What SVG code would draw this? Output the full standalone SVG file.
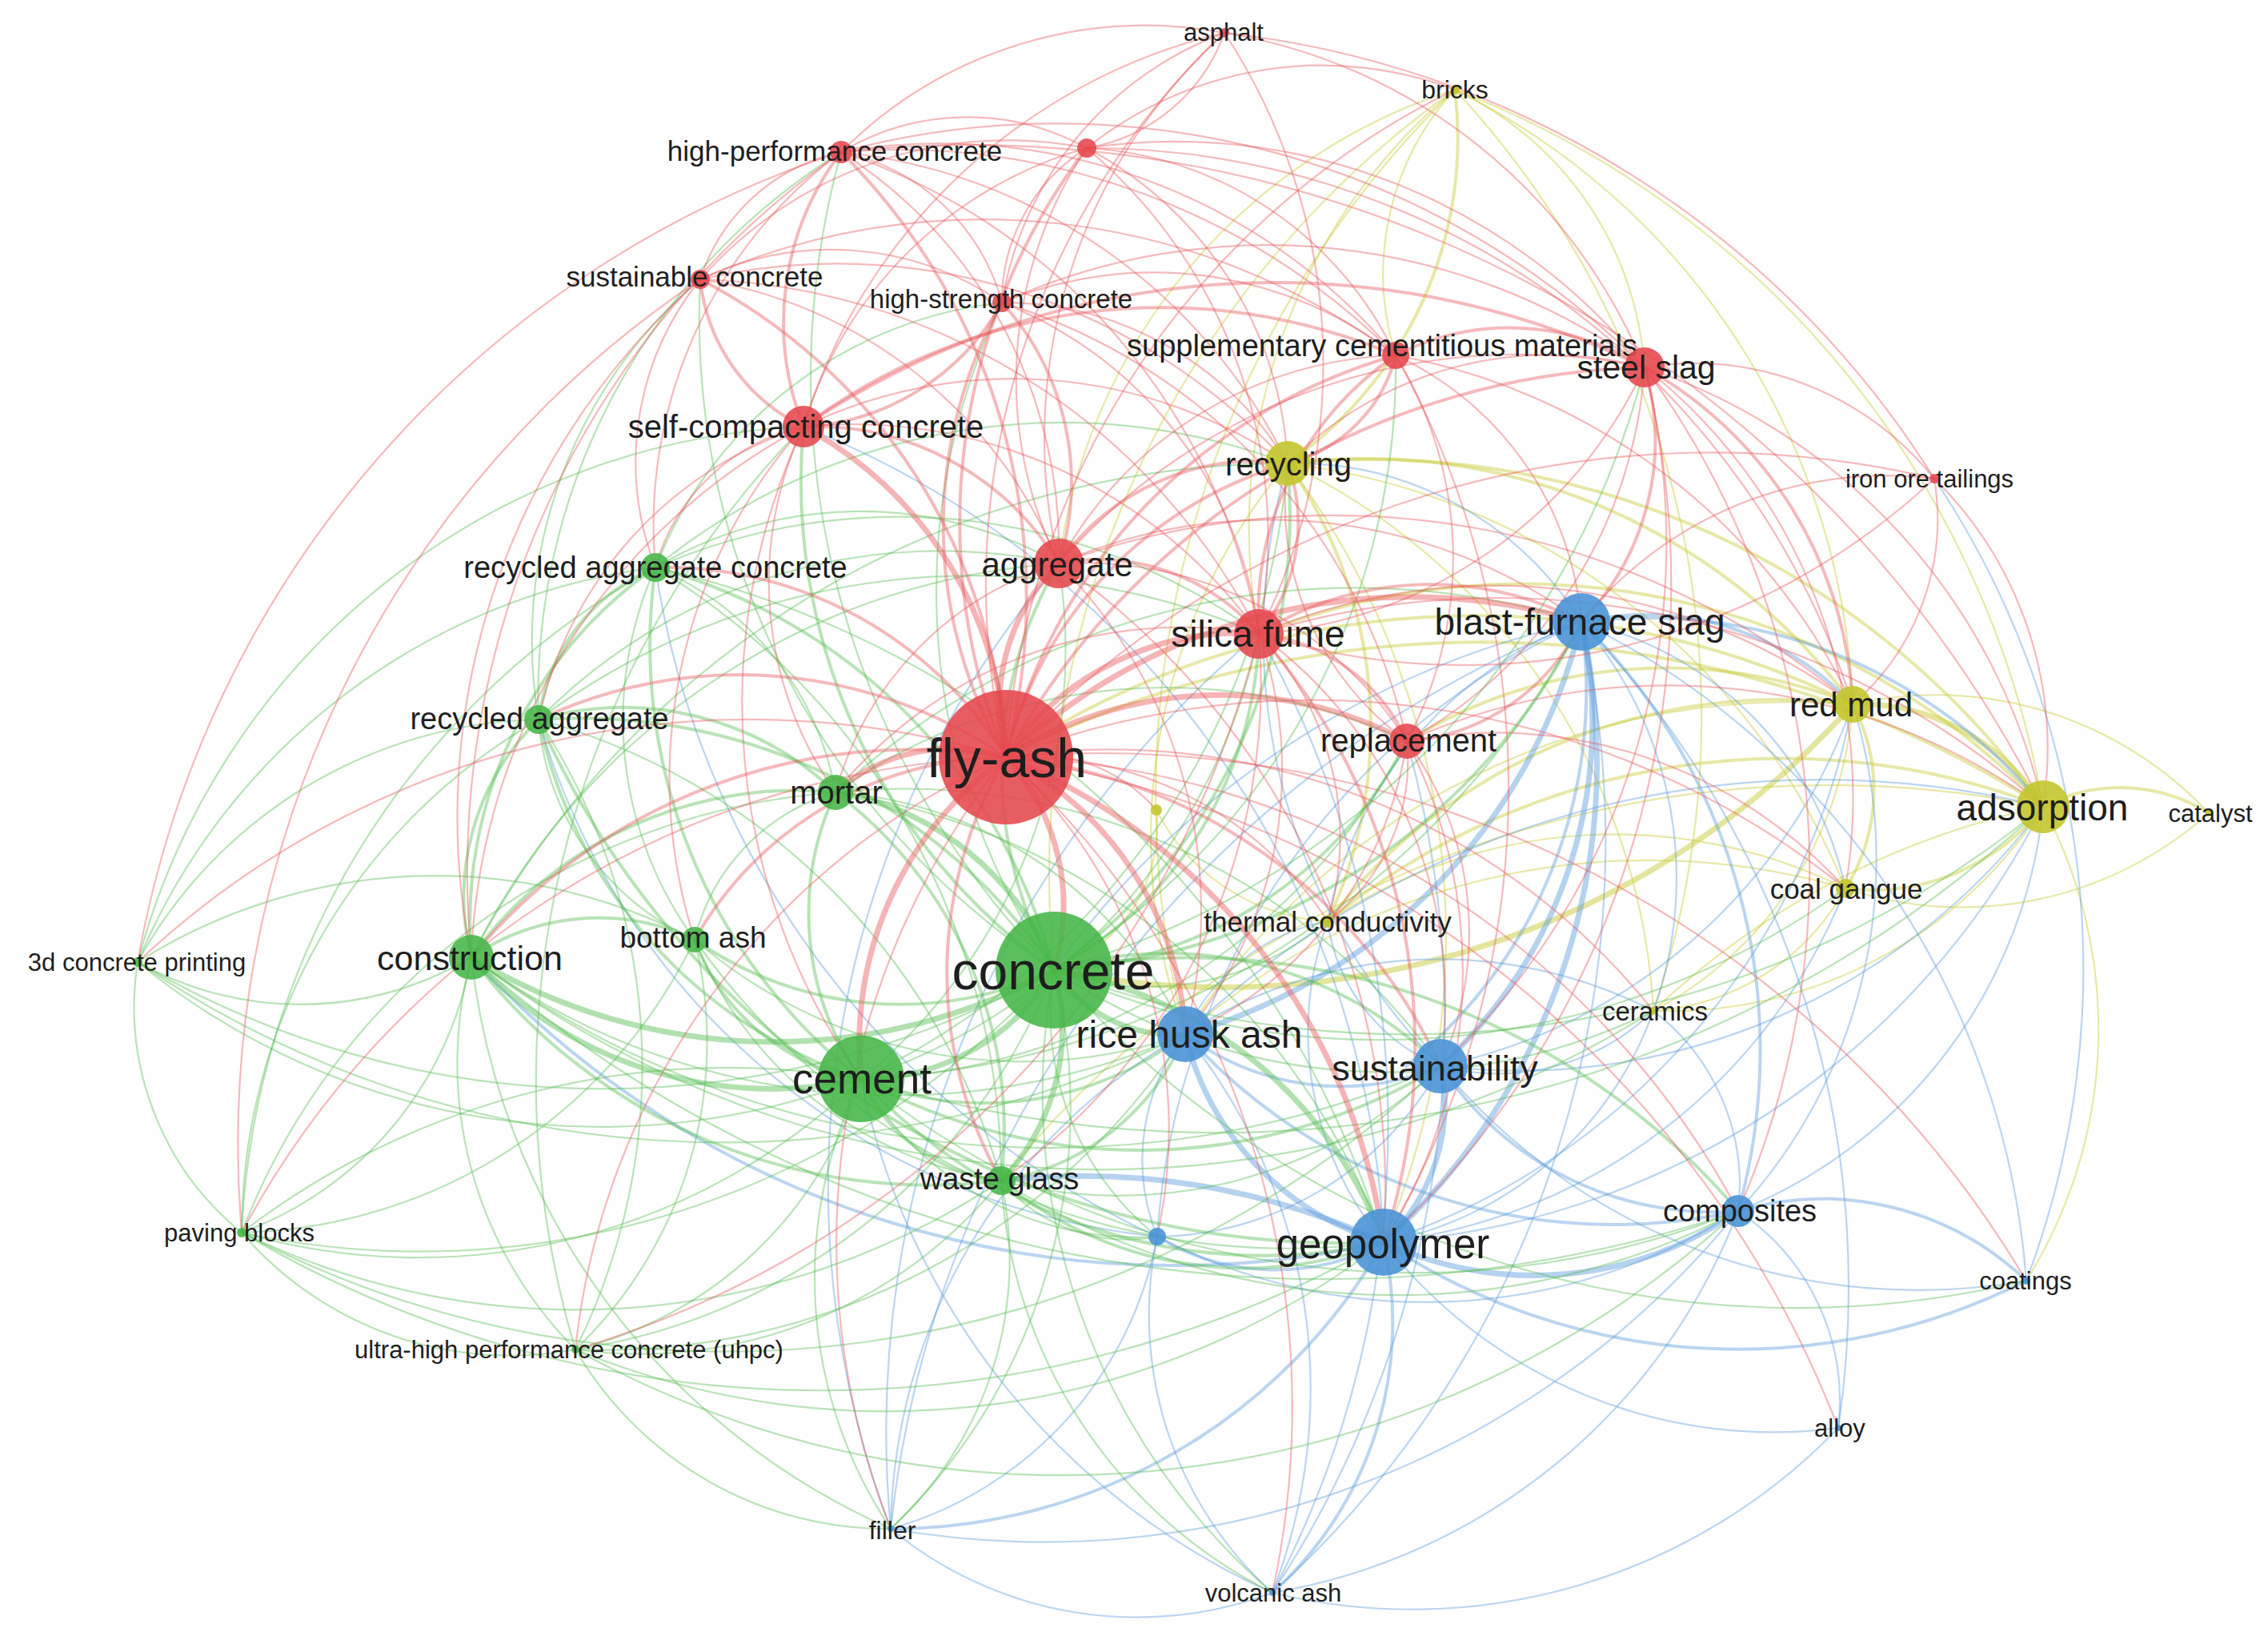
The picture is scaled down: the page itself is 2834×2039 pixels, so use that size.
<svg xmlns="http://www.w3.org/2000/svg" width="2834" height="2039" viewBox="0 0 2834 2039">
<style>
#connectors path{fill:none;stroke-linecap:round}
.r1{stroke:#e8595c;stroke-width:2.2;stroke-opacity:.42}
.r2{stroke:#e8595c;stroke-width:4;stroke-opacity:.42}
.r3{stroke:#e8595c;stroke-width:7;stroke-opacity:.45}
.g1{stroke:#55bd50;stroke-width:2.2;stroke-opacity:.42}
.g2{stroke:#55bd50;stroke-width:4;stroke-opacity:.42}
.g3{stroke:#55bd50;stroke-width:7;stroke-opacity:.45}
.b1{stroke:#5b9cdc;stroke-width:2.2;stroke-opacity:.42}
.b2{stroke:#5b9cdc;stroke-width:4;stroke-opacity:.42}
.b3{stroke:#5b9cdc;stroke-width:7;stroke-opacity:.45}
.y1{stroke:#c9cb3c;stroke-width:2.2;stroke-opacity:.45}
.y2{stroke:#c9cb3c;stroke-width:4;stroke-opacity:.45}
.y3{stroke:#c9cb3c;stroke-width:7;stroke-opacity:.5}
.nr{fill:#e5474c;fill-opacity:.88}
.ng{fill:#46b647;fill-opacity:.88}
.nb{fill:#4a94d6;fill-opacity:.9}
.ny{fill:#c3c62e;fill-opacity:.9}
text{font-family:"Liberation Sans",Arial,sans-serif;fill:#1e1e1e;text-anchor:middle;dominant-baseline:central}
</style>
<rect width="2834" height="2039" fill="#ffffff"/>
<g id="connectors">
<g class="y1">
<path d="M2315 880A467 467 0 0 1 2760 1016"/>
<path d="M2315 880A471 471 0 0 1 2066 1263"/>
<path d="M1609 579A864 864 0 0 1 2306 1110"/>
<path d="M1609 579A808 808 0 0 1 2066 1263"/>
<path d="M2315 880A894 894 0 0 0 1818 112"/>
<path d="M2553 1008A556 556 0 0 1 2066 1263"/>
<path d="M2553 1008A1172 1172 0 0 0 1818 112"/>
<path d="M2306 1110A298 298 0 0 1 2066 1263"/>
<path d="M2306 1110A648 648 0 0 0 1659 1151"/>
<path d="M1818 112A416 416 0 0 1 2055 459"/>
<path d="M1818 112A1151 1151 0 0 1 2066 1263"/>
<path d="M1818 112A340 340 0 0 0 1744 444"/>
<path d="M1818 112A720 720 0 0 0 1323 704"/>
<path d="M1818 112A712 712 0 0 0 1573 792"/>
<path d="M1818 112A1227 1227 0 0 0 1481 1292"/>
<path d="M1818 112A1200 1200 0 0 0 1317 1212"/>
<path d="M1609 579A980 980 0 0 1 1729 1552"/>
<path d="M1609 579A724 724 0 0 0 1481 1292"/>
<path d="M1445 1012A190 190 0 0 1 1317 1212"/>
<path d="M1445 1012A255 255 0 0 0 1659 1151"/>
<path d="M2760 1016A463 463 0 0 1 2306 1110"/>
<path d="M2532 1600A592 592 0 0 0 2553 1008"/>
<path d="M2553 1008A1000 1000 0 0 0 2066 1263"/>
<path d="M2315 880A900 900 0 0 0 1481 1292"/>
<path d="M2306 1110A880 880 0 0 0 1481 1292"/>
<path d="M2553 1008A1330 1330 0 0 0 1251 1475"/>
</g>
<g class="y2">
<path d="M1609 579A758 758 0 0 1 2315 880"/>
<path d="M1609 579A1034 1034 0 0 1 2553 1008"/>
<path d="M2315 880A230 230 0 0 1 2306 1110"/>
<path d="M2553 1008A273 273 0 0 1 2306 1110"/>
<path d="M2553 1008A207 207 0 0 1 2760 1016"/>
<path d="M1609 579A574 574 0 0 1 1659 1151"/>
<path d="M2315 880A714 714 0 0 0 1659 1151"/>
<path d="M2553 1008A900 900 0 0 0 1659 1151"/>
<path d="M1609 579A495 495 0 0 0 1818 112"/>
<path d="M2315 880A1060 1060 0 0 0 1257 946"/>
<path d="M2553 1008A1300 1300 0 0 0 1257 946"/>
<path d="M2315 880A620 620 0 0 0 1758 926"/>
<path d="M2553 1008A900 900 0 0 0 1573 792"/>
</g>
<g class="y3">
<path d="M2315 880A270 270 0 0 1 2553 1008"/>
<path d="M2315 880A1052 1052 0 0 1 1317 1212"/>
</g>
<g class="b1">
<path d="M1976 777A434 434 0 0 1 2306 1110"/>
<path d="M1976 777A499 499 0 0 0 1659 1151"/>
<path d="M1976 777A490 490 0 0 1 2066 1263"/>
<path d="M1976 777A911 911 0 0 0 1446 1545"/>
<path d="M1976 777A1265 1265 0 0 1 1590 1990"/>
<path d="M1976 777A1000 1000 0 0 1 2532 1600"/>
<path d="M1976 777A1375 1375 0 0 0 1113 1910"/>
<path d="M1976 777A420 420 0 0 0 1609 579"/>
<path d="M1481 1292A257 257 0 0 0 1446 1545"/>
<path d="M1481 1292A720 720 0 0 0 1113 1910"/>
<path d="M1481 1292A705 705 0 0 1 1590 1990"/>
<path d="M1481 1292A243 243 0 0 1 1659 1151"/>
<path d="M1481 1292A586 586 0 0 1 2066 1263"/>
<path d="M1481 1292A1152 1152 0 0 1 2553 1008"/>
<path d="M1800 1332A410 410 0 0 1 1446 1545"/>
<path d="M1800 1332A280 280 0 0 0 2066 1263"/>
<path d="M1800 1332A228 228 0 0 1 1659 1151"/>
<path d="M1800 1332A700 700 0 0 0 2315 880"/>
<path d="M1800 1332A818 818 0 0 0 2553 1008"/>
<path d="M1800 1332A776 776 0 0 0 2532 1600"/>
<path d="M1800 1332A767 767 0 0 1 1609 579"/>
<path d="M1729 1552A618 618 0 0 0 2297 1784"/>
<path d="M1729 1552A446 446 0 0 0 2066 1263"/>
<path d="M1729 1552A886 886 0 0 0 2315 880"/>
<path d="M1729 1552A1000 1000 0 0 0 2553 1008"/>
<path d="M1729 1552A706 706 0 0 0 2306 1110"/>
<path d="M1729 1552A410 410 0 0 1 1659 1151"/>
<path d="M2172 1513A285 285 0 0 1 2297 1784"/>
<path d="M2172 1513A757 757 0 0 1 1590 1990"/>
<path d="M2172 1513A274 274 0 0 0 2066 1263"/>
<path d="M2172 1513A610 610 0 0 0 2553 1008"/>
<path d="M2172 1513A646 646 0 0 0 2315 880"/>
<path d="M2172 1513A1116 1116 0 0 1 1113 1910"/>
<path d="M1446 1545A468 468 0 0 1 1113 1910"/>
<path d="M1446 1545A468 468 0 0 0 1590 1990"/>
<path d="M1113 1910A483 483 0 0 0 1590 1990"/>
<path d="M1590 1990A740 740 0 0 0 2297 1784"/>
<path d="M2172 1513A727 727 0 0 1 1446 1545"/>
<path d="M1446 1545A1100 1100 0 0 1 819 709"/>
<path d="M1446 1545A900 900 0 0 1 673 899"/>
<path d="M1113 1910A1300 1300 0 0 1 1573 792"/>
<path d="M1113 1910A1200 1200 0 0 1 1323 704"/>
<path d="M1590 1990A1250 1250 0 0 0 1573 792"/>
<path d="M1590 1990A1300 1300 0 0 0 1758 926"/>
<path d="M1590 1990A900 900 0 0 1 1076 1348"/>
<path d="M2532 1600A1100 1100 0 0 0 2417 598"/>
<path d="M2297 1784A1200 1200 0 0 0 1976 777"/>
<path d="M1976 777A1100 1100 0 0 0 1317 1212"/>
<path d="M1729 1552A1150 1150 0 0 0 1004 533"/>
</g>
<g class="b2">
<path d="M1976 777A751 751 0 0 1 2172 1513"/>
<path d="M1976 777A357 357 0 0 1 2315 880"/>
<path d="M1481 1292A322 322 0 0 0 1800 1332"/>
<path d="M1481 1292A722 722 0 0 0 2172 1513"/>
<path d="M1800 1332A409 409 0 0 0 2172 1513"/>
<path d="M1729 1552A708 708 0 0 1 1113 1910"/>
<path d="M1729 1552A454 454 0 0 1 1590 1990"/>
<path d="M1729 1552A283 283 0 0 1 1446 1545"/>
<path d="M1976 777A637 637 0 0 1 2553 1008"/>
<path d="M1729 1552A800 800 0 0 0 2532 1600"/>
<path d="M2172 1513A370 370 0 0 1 2532 1600"/>
<path d="M1729 1552A1194 1194 0 0 1 589 1196"/>
<path d="M1976 777A600 600 0 0 1 1757 1332"/>
</g>
<g class="b3">
<path d="M1976 777A580 580 0 0 1 1800 1332"/>
<path d="M1976 777A806 806 0 0 1 1729 1552"/>
<path d="M1481 1292A356 356 0 0 0 1729 1552"/>
<path d="M1800 1332A231 231 0 0 1 1729 1552"/>
<path d="M1729 1552A445 445 0 0 0 2172 1513"/>
<path d="M1976 777A705 705 0 0 1 1481 1292"/>
<path d="M1729 1552A900 900 0 0 0 1251 1475"/>
</g>
<g class="g1">
<path d="M1317 1212A1145 1145 0 0 1 172 1202"/>
<path d="M1317 1212A1067 1067 0 0 1 302 1540"/>
<path d="M1317 1212A763 763 0 0 1 719 1686"/>
<path d="M1317 1212A1054 1054 0 0 0 2055 459"/>
<path d="M1317 1212A879 879 0 0 0 1744 444"/>
<path d="M1317 1212A835 835 0 0 1 1252 378"/>
<path d="M1317 1212A1056 1056 0 0 1 1051 190"/>
<path d="M1317 1212A970 970 0 0 1 875 349"/>
<path d="M1317 1212A357 357 0 0 0 1446 1545"/>
<path d="M1317 1212A727 727 0 0 1 1113 1910"/>
<path d="M1317 1212A824 824 0 0 0 1590 1990"/>
<path d="M1317 1212A1253 1253 0 0 0 2553 1008"/>
<path d="M1317 1212A348 348 0 0 0 1659 1151"/>
<path d="M1317 1212A991 991 0 0 0 2306 1110"/>
<path d="M1317 1212A750 750 0 0 0 2066 1263"/>
<path d="M1317 1212A1230 1230 0 0 0 2532 1600"/>
<path d="M1076 1348A797 797 0 0 1 302 1540"/>
<path d="M1076 1348A491 491 0 0 1 719 1686"/>
<path d="M1076 1348A915 915 0 0 1 172 1202"/>
<path d="M1076 1348A1105 1105 0 0 0 2172 1513"/>
<path d="M1076 1348A690 690 0 0 0 1323 704"/>
<path d="M1076 1348A746 746 0 0 0 1573 792"/>
<path d="M1076 1348A1066 1066 0 0 0 1976 777"/>
<path d="M1076 1348A563 563 0 0 0 1113 1910"/>
<path d="M1076 1348A400 400 0 0 0 1446 1545"/>
<path d="M1076 1348A936 936 0 0 0 1609 579"/>
<path d="M1076 1348A802 802 0 0 0 1758 926"/>
<path d="M1076 1348A1510 1510 0 0 0 2553 1008"/>
<path d="M589 1196A417 417 0 0 1 172 1202"/>
<path d="M589 1196A448 448 0 0 1 302 1540"/>
<path d="M589 1196A507 507 0 0 0 719 1686"/>
<path d="M589 1196A897 897 0 0 0 1481 1292"/>
<path d="M589 1196A1217 1217 0 0 0 1800 1332"/>
<path d="M589 1196A884 884 0 0 1 1323 704"/>
<path d="M589 1196A1614 1614 0 0 0 2172 1513"/>
<path d="M589 1196A886 886 0 0 0 1113 1910"/>
<path d="M1044 990A253 253 0 0 0 868 1174"/>
<path d="M1044 990A375 375 0 0 0 819 709"/>
<path d="M1044 990A520 520 0 0 1 1481 1292"/>
<path d="M1044 990A865 865 0 0 1 1729 1552"/>
<path d="M1044 990A822 822 0 0 1 1800 1332"/>
<path d="M1044 990A955 955 0 0 1 1976 777"/>
<path d="M1044 990A861 861 0 0 0 302 1540"/>
<path d="M1044 990A714 714 0 0 1 1758 926"/>
<path d="M868 1174A332 332 0 0 1 673 899"/>
<path d="M868 1174A466 466 0 0 1 819 709"/>
<path d="M868 1174A490 490 0 0 0 1251 1475"/>
<path d="M868 1174A645 645 0 0 1 302 1540"/>
<path d="M868 1174A908 908 0 0 0 1729 1552"/>
<path d="M868 1174A625 625 0 0 0 1481 1292"/>
<path d="M868 1174A531 531 0 0 1 719 1686"/>
<path d="M868 1174A696 696 0 0 0 172 1202"/>
<path d="M819 709A813 813 0 0 0 172 1202"/>
<path d="M819 709A1000 1000 0 0 0 302 1540"/>
<path d="M819 709A763 763 0 0 1 1573 792"/>
<path d="M819 709A1240 1240 0 0 1 1729 1552"/>
<path d="M819 709A895 895 0 0 1 1251 1475"/>
<path d="M819 709A804 804 0 0 1 1609 579"/>
<path d="M819 709A504 504 0 0 1 1323 704"/>
<path d="M819 709A526 526 0 0 1 1252 378"/>
<path d="M673 899A585 585 0 0 0 172 1202"/>
<path d="M673 899A741 741 0 0 0 302 1540"/>
<path d="M673 899A704 704 0 0 1 1323 704"/>
<path d="M673 899A790 790 0 0 1 719 1686"/>
<path d="M673 899A590 590 0 0 1 875 349"/>
<path d="M673 899A800 800 0 0 1 1051 190"/>
<path d="M673 899A826 826 0 0 1 1251 1475"/>
<path d="M673 899A910 910 0 0 1 1573 792"/>
<path d="M1251 1475A955 955 0 0 1 302 1540"/>
<path d="M1251 1475A579 579 0 0 1 719 1686"/>
<path d="M1251 1475A580 580 0 0 0 1800 1332"/>
<path d="M1251 1475A204 204 0 0 0 1446 1545"/>
<path d="M1251 1475A456 456 0 0 1 1113 1910"/>
<path d="M1251 1475A922 922 0 0 0 2172 1513"/>
<path d="M1251 1475A616 616 0 0 0 1590 1990"/>
<path d="M172 1202A363 363 0 0 0 302 1540"/>
<path d="M302 1540A442 442 0 0 0 719 1686"/>
<path d="M302 1540A1427 1427 0 0 0 1729 1552"/>
<path d="M719 1686A1018 1018 0 0 0 1729 1552"/>
<path d="M719 1686A868 868 0 0 0 1481 1292"/>
<path d="M719 1686A452 452 0 0 0 1113 1910"/>
<path d="M719 1686A1167 1167 0 0 1 1004 533"/>
<path d="M172 1202A1300 1300 0 0 0 1481 1292"/>
<path d="M302 1540A1000 1000 0 0 1 1076 1348"/>
<path d="M589 1196A1150 1150 0 0 1 1609 579"/>
<path d="M589 1196A1300 1300 0 0 0 2066 1263"/>
<path d="M302 1540A1300 1300 0 0 0 1800 1332"/>
<path d="M719 1686A1250 1250 0 0 0 2172 1513"/>
<path d="M172 1202A900 900 0 0 1 1004 533"/>
</g>
<g class="g2">
<path d="M1317 1212A450 450 0 0 1 868 1174"/>
<path d="M1317 1212A708 708 0 0 0 819 709"/>
<path d="M1317 1212A716 716 0 0 0 673 899"/>
<path d="M1317 1212A508 508 0 0 1 1323 704"/>
<path d="M1317 1212A492 492 0 0 0 1573 792"/>
<path d="M1317 1212A526 526 0 0 0 1758 926"/>
<path d="M1317 1212A748 748 0 0 1 1004 533"/>
<path d="M1317 1212A790 790 0 0 0 1976 777"/>
<path d="M1317 1212A485 485 0 0 1 1800 1332"/>
<path d="M1317 1212A906 906 0 0 1 2172 1513"/>
<path d="M1317 1212A697 697 0 0 0 1609 579"/>
<path d="M1076 1348A359 359 0 0 1 1044 990"/>
<path d="M1076 1348A271 271 0 0 1 868 1174"/>
<path d="M1076 1348A689 689 0 0 1 819 709"/>
<path d="M1076 1348A603 603 0 0 1 673 899"/>
<path d="M1076 1348A216 216 0 0 0 1251 1475"/>
<path d="M1076 1348A409 409 0 0 0 1481 1292"/>
<path d="M1076 1348A684 684 0 0 0 1729 1552"/>
<path d="M1076 1348A725 725 0 0 0 1800 1332"/>
<path d="M589 1196A500 500 0 0 1 1044 990"/>
<path d="M589 1196A280 280 0 0 1 868 1174"/>
<path d="M589 1196A539 539 0 0 1 819 709"/>
<path d="M589 1196A309 309 0 0 1 673 899"/>
<path d="M589 1196A718 718 0 0 0 1251 1475"/>
<path d="M819 709A240 240 0 0 0 673 899"/>
<path d="M1044 990A383 383 0 0 0 673 899"/>
<path d="M1044 990A527 527 0 0 1 1251 1475"/>
<path d="M1251 1475A479 479 0 0 0 1729 1552"/>
<path d="M1251 1475A301 301 0 0 0 1481 1292"/>
<path d="M673 899A1100 1100 0 0 0 1729 1552"/>
</g>
<g class="g3">
<path d="M1317 1212A277 277 0 0 1 1076 1348"/>
<path d="M1317 1212A728 728 0 0 1 589 1196"/>
<path d="M1317 1212A271 271 0 0 1 1251 1475"/>
<path d="M1317 1212A180 180 0 0 0 1481 1292"/>
<path d="M1317 1212A534 534 0 0 1 1729 1552"/>
<path d="M1076 1348A510 510 0 0 1 589 1196"/>
<path d="M1317 1212A352 352 0 0 0 1044 990"/>
</g>
<g class="r1">
<path d="M1257 946A945 945 0 0 1 1530 41"/>
<path d="M1257 946A1210 1210 0 0 1 2417 598"/>
<path d="M1257 946A1115 1115 0 0 0 172 1202"/>
<path d="M1257 946A1125 1125 0 0 0 302 1540"/>
<path d="M1257 946A915 915 0 0 0 719 1686"/>
<path d="M1257 946A1076 1076 0 0 1 2172 1513"/>
<path d="M1257 946A630 630 0 0 1 1446 1545"/>
<path d="M1257 946A975 975 0 0 0 1113 1910"/>
<path d="M1257 946A1100 1100 0 0 1 1590 1990"/>
<path d="M1257 946A1062 1062 0 0 1 2306 1110"/>
<path d="M1257 946A451 451 0 0 1 1659 1151"/>
<path d="M1257 946A870 870 0 0 1 2066 1263"/>
<path d="M1257 946A1005 1005 0 0 1 1818 112"/>
<path d="M1257 946A200 200 0 0 1 1445 1012"/>
<path d="M1257 946A1350 1350 0 0 1 2532 1600"/>
<path d="M1257 946A1336 1336 0 0 1 2297 1784"/>
<path d="M1323 704A479 479 0 0 1 1758 926"/>
<path d="M1323 704A764 764 0 0 1 2055 459"/>
<path d="M1323 704A495 495 0 0 1 1744 444"/>
<path d="M1323 704A588 588 0 0 0 1051 190"/>
<path d="M1323 704A520 520 0 0 1 1358 185"/>
<path d="M1323 704A578 578 0 0 0 875 349"/>
<path d="M1323 704A660 660 0 0 1 1976 777"/>
<path d="M1323 704A615 615 0 0 1 1481 1292"/>
<path d="M1323 704A957 957 0 0 1 1729 1552"/>
<path d="M1323 704A684 684 0 0 1 1530 41"/>
<path d="M1323 704A1010 1010 0 0 1 2315 880"/>
<path d="M1573 792A624 624 0 0 0 1004 533"/>
<path d="M1573 792A579 579 0 0 0 2055 459"/>
<path d="M1573 792A779 779 0 0 0 1051 190"/>
<path d="M1573 792A635 635 0 0 0 1358 185"/>
<path d="M1573 792A511 511 0 0 0 1252 378"/>
<path d="M1573 792A809 809 0 0 0 875 349"/>
<path d="M1573 792A510 510 0 0 1 1481 1292"/>
<path d="M1573 792A566 566 0 0 1 1800 1332"/>
<path d="M1573 792A1018 1018 0 0 1 2553 1008"/>
<path d="M1573 792A749 749 0 0 1 2315 880"/>
<path d="M1573 792A368 368 0 0 1 1659 1151"/>
<path d="M1573 792A859 859 0 0 0 2417 598"/>
<path d="M1573 792A751 751 0 0 0 1530 41"/>
<path d="M1758 926A482 482 0 0 0 1744 444"/>
<path d="M1758 926A579 579 0 0 0 2055 459"/>
<path d="M1758 926A477 477 0 0 1 1481 1292"/>
<path d="M1758 926A406 406 0 0 1 1800 1332"/>
<path d="M1758 926A628 628 0 0 1 1729 1552"/>
<path d="M1758 926A366 366 0 0 1 1609 579"/>
<path d="M1758 926A800 800 0 0 1 2553 1008"/>
<path d="M1758 926A250 250 0 0 1 1659 1151"/>
<path d="M1758 926A588 588 0 0 1 2306 1110"/>
<path d="M1758 926A738 738 0 0 0 1252 378"/>
<path d="M1004 533A515 515 0 0 1 1358 185"/>
<path d="M1004 533A607 607 0 0 1 1609 579"/>
<path d="M1004 533A723 723 0 0 1 1530 41"/>
<path d="M2055 459A386 386 0 0 1 2417 598"/>
<path d="M2055 459A756 756 0 0 1 2553 1008"/>
<path d="M2055 459A462 462 0 0 0 1609 579"/>
<path d="M2055 459A1120 1120 0 0 1 1729 1552"/>
<path d="M2055 459A1037 1037 0 0 0 1051 190"/>
<path d="M2055 459A752 752 0 0 0 1358 185"/>
<path d="M2055 459A897 897 0 0 1 1800 1332"/>
<path d="M2055 459A1060 1060 0 0 1 2172 1513"/>
<path d="M2055 459A684 684 0 0 1 2306 1110"/>
<path d="M2055 459A803 803 0 0 0 1252 378"/>
<path d="M1744 444A740 740 0 0 0 1051 190"/>
<path d="M1744 444A454 454 0 0 0 1358 185"/>
<path d="M1744 444A494 494 0 0 0 1252 378"/>
<path d="M1744 444A869 869 0 0 0 875 349"/>
<path d="M1744 444A401 401 0 0 1 1976 777"/>
<path d="M1744 444A1108 1108 0 0 1 1729 1552"/>
<path d="M1744 444A791 791 0 0 1 2315 880"/>
<path d="M1051 190A307 307 0 0 1 1358 185"/>
<path d="M1051 190A237 237 0 0 0 875 349"/>
<path d="M1051 190A262 262 0 0 1 1252 378"/>
<path d="M1051 190A536 536 0 0 1 1530 41"/>
<path d="M1051 190A700 700 0 0 1 1609 579"/>
<path d="M1358 185A222 222 0 0 0 1530 41"/>
<path d="M1358 185A226 226 0 0 0 1252 378"/>
<path d="M1358 185A511 511 0 0 0 875 349"/>
<path d="M1358 185A471 471 0 0 1 1609 579"/>
<path d="M1358 185A470 470 0 0 1 1818 112"/>
<path d="M875 349A378 378 0 0 1 1252 378"/>
<path d="M875 349A759 759 0 0 1 1609 579"/>
<path d="M1252 378A414 414 0 0 1 1609 579"/>
<path d="M1252 378A434 434 0 0 1 1530 41"/>
<path d="M1530 41A688 688 0 0 1 2055 459"/>
<path d="M2417 598A306 306 0 0 1 2315 880"/>
<path d="M2417 598A474 474 0 0 1 2553 1008"/>
<path d="M2417 598A487 487 0 0 0 1976 777"/>
<path d="M1004 533A782 782 0 0 0 589 1196"/>
<path d="M1004 533A493 493 0 0 0 673 899"/>
<path d="M1004 533A248 248 0 0 0 819 709"/>
<path d="M875 349A364 364 0 0 0 819 709"/>
<path d="M875 349A894 894 0 0 0 589 1196"/>
<path d="M1051 190A581 581 0 0 0 819 709"/>
<path d="M1004 533A660 660 0 0 0 868 1174"/>
<path d="M1004 533A816 816 0 0 0 1076 1348"/>
<path d="M1004 533A457 457 0 0 0 1044 990"/>
<path d="M1323 704A412 412 0 0 0 1044 990"/>
<path d="M1573 792A558 558 0 0 0 1044 990"/>
<path d="M1573 792A755 755 0 0 1 1251 1475"/>
<path d="M1573 792A1240 1240 0 0 1 719 1686"/>
<path d="M875 349A1300 1300 0 0 0 302 1540"/>
<path d="M1051 190A1100 1100 0 0 0 589 1196"/>
<path d="M1051 190A1300 1300 0 0 0 172 1202"/>
<path d="M1358 185A1000 1000 0 0 1 2315 880"/>
<path d="M1051 190A1500 1500 0 0 1 2553 1008"/>
<path d="M1530 41A1200 1200 0 0 1 2417 598"/>
<path d="M1051 190A880 880 0 0 1 1744 444"/>
</g>
<g class="r2">
<path d="M1257 946A935 935 0 0 1 2055 459"/>
<path d="M1257 946A700 700 0 0 1 1744 444"/>
<path d="M1257 946A785 785 0 0 0 1051 190"/>
<path d="M1257 946A770 770 0 0 1 1358 185"/>
<path d="M1257 946A710 710 0 0 0 875 349"/>
<path d="M1257 946A570 570 0 0 1 1252 378"/>
<path d="M1257 946A715 715 0 0 0 589 1196"/>
<path d="M1257 946A450 450 0 0 0 868 1174"/>
<path d="M1257 946A500 500 0 0 0 819 709"/>
<path d="M1257 946A590 590 0 0 0 673 899"/>
<path d="M1257 946A530 530 0 0 0 1251 1475"/>
<path d="M1257 946A670 670 0 0 1 1800 1332"/>
<path d="M1257 946A510 510 0 0 1 1609 579"/>
<path d="M1323 704A262 262 0 0 1 1573 792"/>
<path d="M1323 704A356 356 0 0 0 1004 533"/>
<path d="M1323 704A334 334 0 0 0 1252 378"/>
<path d="M1323 704A300 300 0 0 1 1609 579"/>
<path d="M1573 792A230 230 0 0 1 1758 926"/>
<path d="M1573 792A403 403 0 0 1 1976 777"/>
<path d="M1573 792A218 218 0 0 0 1609 579"/>
<path d="M1573 792A391 391 0 0 1 1744 444"/>
<path d="M1573 792A780 780 0 0 1 1729 1552"/>
<path d="M2055 459A312 312 0 0 0 1744 444"/>
<path d="M2055 459A323 323 0 0 1 1976 777"/>
<path d="M2055 459A509 509 0 0 1 2315 880"/>
<path d="M1004 533A352 352 0 0 1 1051 190"/>
<path d="M1004 533A230 230 0 0 1 875 349"/>
<path d="M1004 533A301 301 0 0 0 1252 378"/>
<path d="M1758 926A263 263 0 0 0 1976 777"/>
<path d="M1744 444A186 186 0 0 1 1609 579"/>
<path d="M1004 533A1056 1056 0 0 1 2055 459"/>
<path d="M1004 533A747 747 0 0 1 1744 444"/>
</g>
<g class="r3">
<path d="M1257 946A250 250 0 0 1 1323 704"/>
<path d="M1257 946A350 350 0 0 1 1573 792"/>
<path d="M1257 946A480 480 0 0 0 1004 533"/>
<path d="M1257 946A275 275 0 0 1 1317 1212"/>
<path d="M1257 946A440 440 0 0 0 1076 1348"/>
<path d="M1257 946A220 220 0 0 0 1044 990"/>
<path d="M1257 946A410 410 0 0 1 1481 1292"/>
<path d="M1257 946A770 770 0 0 1 1729 1552"/>
<path d="M1257 946A740 740 0 0 1 1976 777"/>
<path d="M1257 946A500 500 0 0 1 1758 926"/>
</g>
</g>
<g id="nodes">
<g id="node-asphalt"><circle class="nr" cx="1530" cy="41" r="6"/><text x="1529" y="40" font-size="31">asphalt</text></g>
<g id="node-bricks"><circle class="ny" cx="1818" cy="112" r="6"/><text x="1818" y="112" font-size="32">bricks</text></g>
<g id="node-unlabeled-red"><circle class="nr" cx="1358" cy="185" r="12"/></g>
<g id="node-high-performance-concrete"><circle class="nr" cx="1051" cy="190" r="14"/><text x="1043" y="188" font-size="35">high-performance concrete</text></g>
<g id="node-sustainable-concrete"><circle class="nr" cx="875" cy="349" r="12"/><text x="868" y="345" font-size="35">sustainable concrete</text></g>
<g id="node-high-strength-concrete"><circle class="nr" cx="1252" cy="378" r="12"/><text x="1251" y="373" font-size="33">high-strength concrete</text></g>
<g id="node-supplementary-cementitious-materials"><circle class="nr" cx="1744" cy="444" r="17"/><text x="1727" y="432" font-size="38">supplementary cementitious materials</text></g>
<g id="node-steel-slag"><circle class="nr" cx="2055" cy="459" r="25"/><text x="2057" y="459" font-size="41">steel slag</text></g>
<g id="node-iron-ore-tailings"><circle class="nr" cx="2417" cy="598" r="6"/><text x="2411" y="598" font-size="31">iron ore tailings</text></g>
<g id="node-self-compacting-concrete"><circle class="nr" cx="1004" cy="533" r="26"/><text x="1007" y="533" font-size="40">self-compacting concrete</text></g>
<g id="node-recycling"><circle class="ny" cx="1609" cy="579" r="28"/><text x="1610" y="580" font-size="40">recycling</text></g>
<g id="node-recycled-aggregate-concrete"><circle class="ng" cx="819" cy="709" r="18"/><text x="819" y="709" font-size="38">recycled aggregate concrete</text></g>
<g id="node-aggregate"><circle class="nr" cx="1323" cy="704" r="31"/><text x="1321" y="705" font-size="42">aggregate</text></g>
<g id="node-silica-fume"><circle class="nr" cx="1573" cy="792" r="31"/><text x="1572" y="792" font-size="46">silica fume</text></g>
<g id="node-blast-furnace-slag"><circle class="nb" cx="1976" cy="777" r="36"/><text x="1974" y="777" font-size="46">blast-furnace slag</text></g>
<g id="node-recycled-aggregate"><circle class="ng" cx="673" cy="899" r="18"/><text x="674" y="898" font-size="38">recycled aggregate</text></g>
<g id="node-red-mud"><circle class="ny" cx="2315" cy="880" r="23"/><text x="2313" y="880" font-size="42">red mud</text></g>
<g id="node-replacement"><circle class="nr" cx="1758" cy="926" r="22"/><text x="1760" y="925" font-size="40">replacement</text></g>
<g id="node-unlabeled-yellow"><circle class="ny" cx="1445" cy="1012" r="7"/></g>
<g id="node-mortar"><circle class="ng" cx="1044" cy="990" r="22"/><text x="1045" y="990" font-size="40">mortar</text></g>
<g id="node-adsorption"><circle class="ny" cx="2553" cy="1008" r="33"/><text x="2552" y="1009" font-size="46">adsorption</text></g>
<g id="node-catalyst"><circle class="ny" cx="2760" cy="1016" r="4"/><text x="2762" y="1016" font-size="31">catalyst</text></g>
<g id="node-coal-gangue"><circle class="ny" cx="2306" cy="1110" r="12"/><text x="2307" y="1110" font-size="35">coal gangue</text></g>
<g id="node-thermal-conductivity"><circle class="ny" cx="1659" cy="1151" r="8"/><text x="1659" y="1151" font-size="35">thermal conductivity</text></g>
<g id="node-3d-concrete-printing"><circle class="ng" cx="172" cy="1202" r="6"/><text x="171" y="1202" font-size="31">3d concrete printing</text></g>
<g id="node-construction"><circle class="ng" cx="589" cy="1196" r="28"/><text x="587" y="1197" font-size="43">construction</text></g>
<g id="node-bottom-ash"><circle class="ng" cx="868" cy="1174" r="16"/><text x="866" y="1171" font-size="37">bottom ash</text></g>
<g id="node-ceramics"><circle class="ny" cx="2066" cy="1263" r="5"/><text x="2068" y="1263" font-size="33">ceramics</text></g>
<g id="node-fly-ash"><circle class="nr" cx="1257" cy="946" r="84"/><text x="1258" y="947" font-size="68">fly-ash</text></g>
<g id="node-concrete"><circle class="ng" cx="1317" cy="1212" r="73"/><text x="1316" y="1213" font-size="66">concrete</text></g>
<g id="node-rice-husk-ash"><circle class="nb" cx="1481" cy="1292" r="35"/><text x="1486" y="1292" font-size="48">rice husk ash</text></g>
<g id="node-sustainability"><circle class="nb" cx="1800" cy="1332" r="34"/><text x="1793" y="1334" font-size="45">sustainability</text></g>
<g id="node-cement"><circle class="ng" cx="1076" cy="1348" r="54"/><text x="1077" y="1347" font-size="53">cement</text></g>
<g id="node-waste-glass"><circle class="ng" cx="1251" cy="1475" r="18"/><text x="1249" y="1473" font-size="38">waste glass</text></g>
<g id="node-composites"><circle class="nb" cx="2172" cy="1513" r="20"/><text x="2174" y="1513" font-size="38">composites</text></g>
<g id="node-unlabeled-blue"><circle class="nb" cx="1446" cy="1545" r="11"/></g>
<g id="node-paving-blocks"><circle class="ng" cx="302" cy="1540" r="6"/><text x="299" y="1540" font-size="31">paving blocks</text></g>
<g id="node-geopolymer"><circle class="nb" cx="1729" cy="1552" r="42"/><text x="1728" y="1554" font-size="51">geopolymer</text></g>
<g id="node-coatings"><circle class="nb" cx="2532" cy="1600" r="5"/><text x="2531" y="1600" font-size="31">coatings</text></g>
<g id="node-uhpc"><circle class="ng" cx="719" cy="1686" r="5"/><text x="711" y="1686" font-size="31">ultra-high performance concrete (uhpc)</text></g>
<g id="node-alloy"><circle class="nb" cx="2297" cy="1784" r="4"/><text x="2299" y="1784" font-size="31">alloy</text></g>
<g id="node-filler"><circle class="nb" cx="1113" cy="1910" r="4"/><text x="1115" y="1912" font-size="32">filler</text></g>
<g id="node-volcanic-ash"><circle class="nb" cx="1590" cy="1990" r="4"/><text x="1591" y="1990" font-size="31">volcanic ash</text></g>
</g>
</svg>
